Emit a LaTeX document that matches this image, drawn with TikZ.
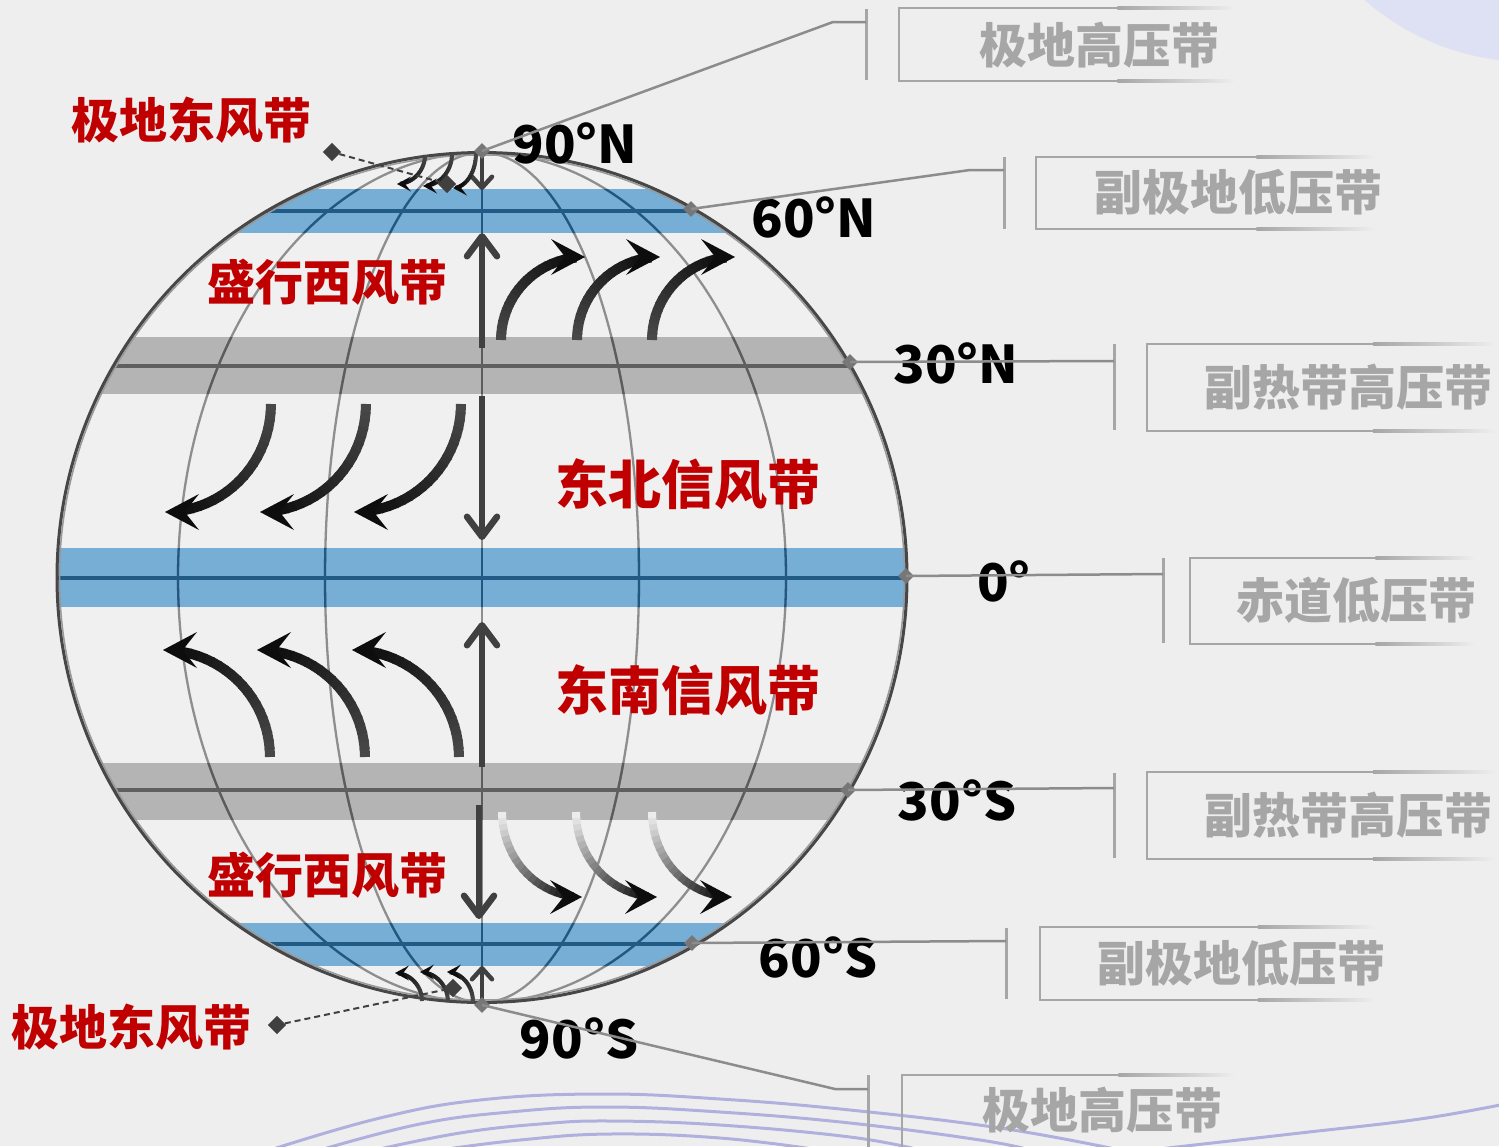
\documentclass[tikz,border=0pt]{standalone}
\usepackage{fontspec}
\newfontfamily\cjk{Noto Sans CJK SC}
\usetikzlibrary{arrows.meta}

\definecolor{bg}{HTML}{EEEEEE}
\definecolor{globefill}{HTML}{F0F0F0}
\definecolor{rimc}{HTML}{474747}
\definecolor{rimin}{HTML}{9A9A9A}
\definecolor{merid}{HTML}{8E8E8E}
\definecolor{meridblue}{HTML}{1F5883}
\definecolor{meridgray}{HTML}{5C5C5C}
\definecolor{bandblue}{HTML}{76AED6}
\definecolor{lineblue}{HTML}{215A85}
\definecolor{bandgray}{HTML}{B4B4B4}
\definecolor{linegray}{HTML}{5F5F5F}
\definecolor{windred}{HTML}{C00000}
\definecolor{boxgray}{HTML}{A6A6A6}
\definecolor{conngray}{HTML}{8C8C8C}
\definecolor{mkgray}{HTML}{777777}
\definecolor{dkgray}{HTML}{404040}
\definecolor{wavec}{HTML}{B0B0DF}
\definecolor{blob}{HTML}{DEE1F3}
\definecolor{windA}{HTML}{484848}
\definecolor{windB}{HTML}{0D0D0D}
\definecolor{fadeA}{HTML}{ECECEC}

% curved wind arrow along a quarter ellipse: start (#1,#2), tip (#3,#4),
% width #5, colour running from #6 to #7, head length #8, head width #9
\newcommand\windarrow[9]{%
  \pgfmathsetmacro\wdir{(#3>#1)?1:-1}%
  \foreach \i in {0,...,19}{%
    \pgfmathsetmacro\ta{\i*4.15}%
    \pgfmathsetmacro\tb{\i*4.15+5}%
    \pgfmathtruncatemacro\p{\i*100/19}%
    \draw[line width=#5, draw=#7!\p!#6]
      ({#3+(#1-#3)*cos(\ta)},{#2+(#4-#2)*sin(\ta)}) --
      ({#3+(#1-#3)*cos(\tb)},{#2+(#4-#2)*sin(\tb)});
  }%
  \fill[#7] (#3,#4) -- ++({-\wdir*#8},{-#9/2}) -- ++({\wdir*0.42*#8},{#9/2})
    -- ++({-\wdir*0.42*#8},{#9/2}) -- cycle;
}

% belt label box: left edge x #1, top #2, bottom #3, right end #4
\newcommand\beltbox[4]{%
  \draw[boxgray, line width=2.5pt] (#1,#2) -- (#1,#3);
  \fill[boxgray] (#1-1.25,#2-1.25) rectangle ({#1+0.65*(#4-#1)},#2+1.25);
  \shade[left color=boxgray, right color=bg] ({#1+0.65*(#4-#1)},#2-1.25) rectangle (#4,#2+1.25);
  \fill[boxgray] (#1-1.25,#3-1.25) rectangle ({#1+0.65*(#4-#1)},#3+1.25);
  \shade[left color=boxgray, right color=bg] ({#1+0.65*(#4-#1)},#3-1.25) rectangle (#4,#3+1.25);
}

\begin{document}
\begin{tikzpicture}[x=1pt, y=-1pt,
  zonename/.style={font=\cjk\bfseries\fontsize{48}{48}\selectfont, text=windred, inner sep=0pt},
  tradename/.style={font=\cjk\bfseries\fontsize{53}{53}\selectfont, text=windred, inner sep=0pt},
  latlabel/.style={font=\cjk\bfseries\fontsize{52}{52}\selectfont, text=black, inner sep=0pt},
  beltname/.style={font=\cjk\bfseries\fontsize{48}{48}\selectfont, text=boxgray, inner sep=0pt},
  conn/.style={draw=conngray, line width=2.5pt},
  barline/.style={draw=boxgray, line width=3pt},
  mk/.style={rectangle, rotate=45, fill=mkgray, minimum size=11pt, inner sep=0pt},
  mkdark/.style={rectangle, rotate=45, fill=dkgray, minimum size=13pt, inner sep=0pt},
  leader/.style={draw=dkgray, line width=2pt, dash pattern=on 6pt off 4pt},
  vert/.style={draw=dkgray, line width=6.5pt, -{Straight Barb[length=20pt,width=30pt,round]}},
  polevert/.style={draw=dkgray, line width=4.5pt, -{Straight Barb[length=11pt,width=20pt,round]}},
  wave/.style={draw=wavec, line width=3pt}
]
\useasboundingbox (0,0) rectangle (1499,1146);
\clip (0,0) rectangle (1499,1146);

% background
\fill[bg] (0,0) rectangle (1499,1146);
\fill[blob] (1530,-190) circle[radius=252];
\draw[wave] plot[smooth, tension=0.7] coordinates {(270,1150) (380,1118) (480,1100) (600,1094) (720,1099) (850,1110) (1000,1128) (1120,1150)};
\draw[wave] plot[smooth, tension=0.7] coordinates {(320,1150) (420,1124) (510,1112) (605,1107) (720,1112) (850,1123) (980,1140) (1030,1150)};
\draw[wave] plot[smooth, tension=0.7] coordinates {(375,1150) (460,1133) (540,1124) (610,1121) (720,1125) (850,1137) (920,1150)};
\draw[wave] plot[smooth, tension=0.7] coordinates {(440,1150) (520,1140) (610,1134) (720,1138) (820,1150)};
\draw[wave] plot[smooth, tension=0.7] coordinates {(1150,1150) (1300,1133) (1420,1119) (1510,1103)};

% globe
\coordinate (C) at (482,577.5);
\fill[globefill] (C) circle[radius=425];
\begin{scope}
  \clip (C) circle[radius=425];
  % pressure belts
  \fill[bandblue] (0,189) rectangle (1000,233);
  \fill[bandgray] (0,337) rectangle (1000,394);
  \fill[bandblue] (0,548) rectangle (1000,607);
  \fill[bandgray] (0,763) rectangle (1000,820);
  \fill[bandblue] (0,923) rectangle (1000,966);
  % meridians
  \draw[merid, line width=2.3pt] (C) ellipse[x radius=304, y radius=425];
  \draw[merid, line width=2.3pt] (C) ellipse[x radius=157, y radius=425];
  \draw[merid, line width=2.3pt] (482,150) -- (482,1005);
  \begin{scope}
    \clip (0,189) rectangle (1000,233) (0,548) rectangle (1000,607) (0,923) rectangle (1000,966);
    \draw[meridblue, line width=2.3pt] (C) ellipse[x radius=304, y radius=425];
    \draw[meridblue, line width=2.3pt] (C) ellipse[x radius=157, y radius=425];
    \draw[meridblue, line width=2.3pt] (482,150) -- (482,1005);
  \end{scope}
  \begin{scope}
    \clip (0,337) rectangle (1000,394) (0,763) rectangle (1000,820);
    \draw[meridgray, line width=2.3pt] (C) ellipse[x radius=304, y radius=425];
    \draw[meridgray, line width=2.3pt] (C) ellipse[x radius=157, y radius=425];
    \draw[meridgray, line width=2.3pt] (482,150) -- (482,1005);
  \end{scope}
  % latitude lines
  \draw[lineblue, line width=4pt] (0,211) -- (1000,211);
  \draw[linegray, line width=4pt] (0,366) -- (1000,366);
  \draw[lineblue, line width=4pt] (0,578) -- (1000,578);
  \draw[linegray, line width=4pt] (0,790) -- (1000,790);
  \draw[lineblue, line width=4pt] (0,944) -- (1000,944);
\end{scope}
\draw[rimin, line width=1.5pt] (C) circle[radius=422.5];
\draw[rimc, line width=3pt] (C) circle[radius=425];

% vertical circulation arrows
\coordinate (vNa) at (482,348);  \coordinate (vNb) at (482,233);
\coordinate (vTa) at (482,396);  \coordinate (vTb) at (482,540);
\coordinate (vSa) at (482,767);  \coordinate (vSb) at (482,622);
\coordinate (vWa) at (479,805);  \coordinate (vWb) at (479,919);
\coordinate (vPa) at (482,154);  \coordinate (vPb) at (482,190);
\coordinate (vQa) at (482,1001); \coordinate (vQb) at (482,966);
\draw[vert] (vNa) -- (vNb);
\draw[vert] (vTa) -- (vTb);
\draw[vert] (vSa) -- (vSb);
\draw[vert] (vWa) -- (vWb);
\draw[polevert] (vPa) -- (vPb);
\draw[polevert] (vQa) -- (vQb);

% westerlies, northern hemisphere
\windarrow{501}{340}{585}{257}{10pt}{windA}{windB}{34}{36}
\windarrow{577}{340}{660}{257}{10pt}{windA}{windB}{34}{36}
\windarrow{652}{340}{735}{257}{10pt}{windA}{windB}{34}{36}
% north-east trades
\windarrow{271}{404}{165}{512}{10pt}{windA}{windB}{34}{36}
\windarrow{366}{404}{260}{512}{10pt}{windA}{windB}{34}{36}
\windarrow{461}{404}{354}{512}{10pt}{windA}{windB}{34}{36}
% south-east trades
\windarrow{270}{757}{163}{650}{10pt}{windA}{windB}{34}{36}
\windarrow{365}{757}{257}{650}{10pt}{windA}{windB}{34}{36}
\windarrow{459}{757}{352}{650}{10pt}{windA}{windB}{34}{36}
% westerlies, southern hemisphere
\windarrow{502}{812}{582}{897}{8pt}{fadeA}{windB}{32}{34}
\windarrow{576}{812}{657}{897}{8pt}{fadeA}{windB}{32}{34}
\windarrow{652}{812}{732}{897}{8pt}{fadeA}{windB}{32}{34}
% polar easterlies
\windarrow{425}{155}{397}{184}{4pt}{windA}{windB}{14}{15}
\windarrow{452}{154}{423}{186}{4pt}{windA}{windB}{14}{15}
\windarrow{476}{153}{453}{188}{4pt}{windA}{windB}{14}{15}
\windarrow{422}{1001}{395}{973}{4pt}{windA}{windB}{14}{15}
\windarrow{448}{1002}{420}{972}{4pt}{windA}{windB}{14}{15}
\windarrow{473}{1002}{447}{972}{4pt}{windA}{windB}{14}{15}

% wind belt names
\node[zonename] (pen) at (191,120) {极地东风带};
\node[zonename] (pes) at (131,1027) {极地东风带};
\node[zonename] (wn) at (327,282) {盛行西风带};
\node[zonename] (ws) at (327,875) {盛行西风带};
\node[tradename] (ten) at (688,484) {东北信风带};
\node[tradename] (tes) at (688,690) {东南信风带};

% leaders to the polar easterlies
\node[mkdark] (qa) at (332,152) {};
\node[mkdark] (qb) at (447,184) {};
\node[mkdark] (qc) at (277,1025) {};
\node[mkdark] (qd) at (453,988) {};
\draw[leader] (qa) -- (qb);
\draw[leader] (qc) -- (qd);

% latitude labels
\node[latlabel] (l90n) at (575,143) {90°N};
\node[latlabel] (l60n) at (814,217) {60°N};
\node[latlabel] (l30n) at (956,363) {30°N};
\node[latlabel] (l0) at (1004,581) {0°};
\node[latlabel] (l30s) at (957,800) {30°S};
\node[latlabel] (l60s) at (818,957) {60°S};
\node[latlabel] (l90s) at (579,1038) {90°S};

% pressure belt boxes
\beltbox{899}{8}{81}{1235}
\beltbox{1036}{157}{229}{1375}
\beltbox{1147}{344}{431}{1495}
\beltbox{1190}{558}{644}{1475}
\beltbox{1147}{772}{859}{1495}
\beltbox{1040}{927}{1000}{1375}
\beltbox{902}{1075}{1160}{1235}
\node[beltname] (b1) at (1099,45) {极地高压带};
\node[beltname] (b2) at (1238,192) {副极地低压带};
\node[beltname] (b3) at (1348,387) {副热带高压带};
\node[beltname] (b4) at (1356,600) {赤道低压带};
\node[beltname] (b5) at (1348,815) {副热带高压带};
\node[beltname] (b6) at (1241,963) {副极地低压带};
\node[beltname] (b7) at (1102,1110) {极地高压带};

% brackets
\coordinate (s1a) at (866,9);    \coordinate (s1b) at (866,80);
\coordinate (s2a) at (1004,157); \coordinate (s2b) at (1004,229);
\coordinate (s3a) at (1114,344); \coordinate (s3b) at (1114,430);
\coordinate (s4a) at (1163,558); \coordinate (s4b) at (1163,643);
\coordinate (s5a) at (1114,773); \coordinate (s5b) at (1114,858);
\coordinate (s6a) at (1006,928); \coordinate (s6b) at (1006,999);
\coordinate (s7a) at (868,1075); \coordinate (s7b) at (868,1150);
\foreach \s in {1,...,7}{\draw[barline] (s\s a) -- (s\s b);}

% connectors from the globe to the brackets
\node[mk] (m90n) at (482,151) {};
\node[mk] (m60n) at (691,209) {};
\node[mk] (m30n) at (850,362) {};
\node[mk] (m0) at (906,576) {};
\node[mk] (m30s) at (848,790) {};
\node[mk] (m60s) at (692,943) {};
\node[mk] (m90s) at (482,1005) {};
\coordinate (k1) at (833,22);  \coordinate (e1) at (866,22);
\coordinate (k2) at (970,170); \coordinate (e2) at (1004,170);
\coordinate (e3) at (1114,361);
\coordinate (e4) at (1163,574);
\coordinate (e5) at (1114,788);
\coordinate (e6) at (1006,941);
\coordinate (k7) at (835,1089); \coordinate (e7) at (868,1089);
\draw[conn] (m90n.center) -- (k1) -- (e1);
\draw[conn] (m60n.center) -- (k2) -- (e2);
\draw[conn] (m30n.center) -- (e3);
\draw[conn] (m0.center) -- (e4);
\draw[conn] (m30s.center) -- (e5);
\draw[conn] (m60s.center) -- (e6);
\draw[conn] (m90s.center) -- (k7) -- (e7);
\end{tikzpicture}
\end{document}
